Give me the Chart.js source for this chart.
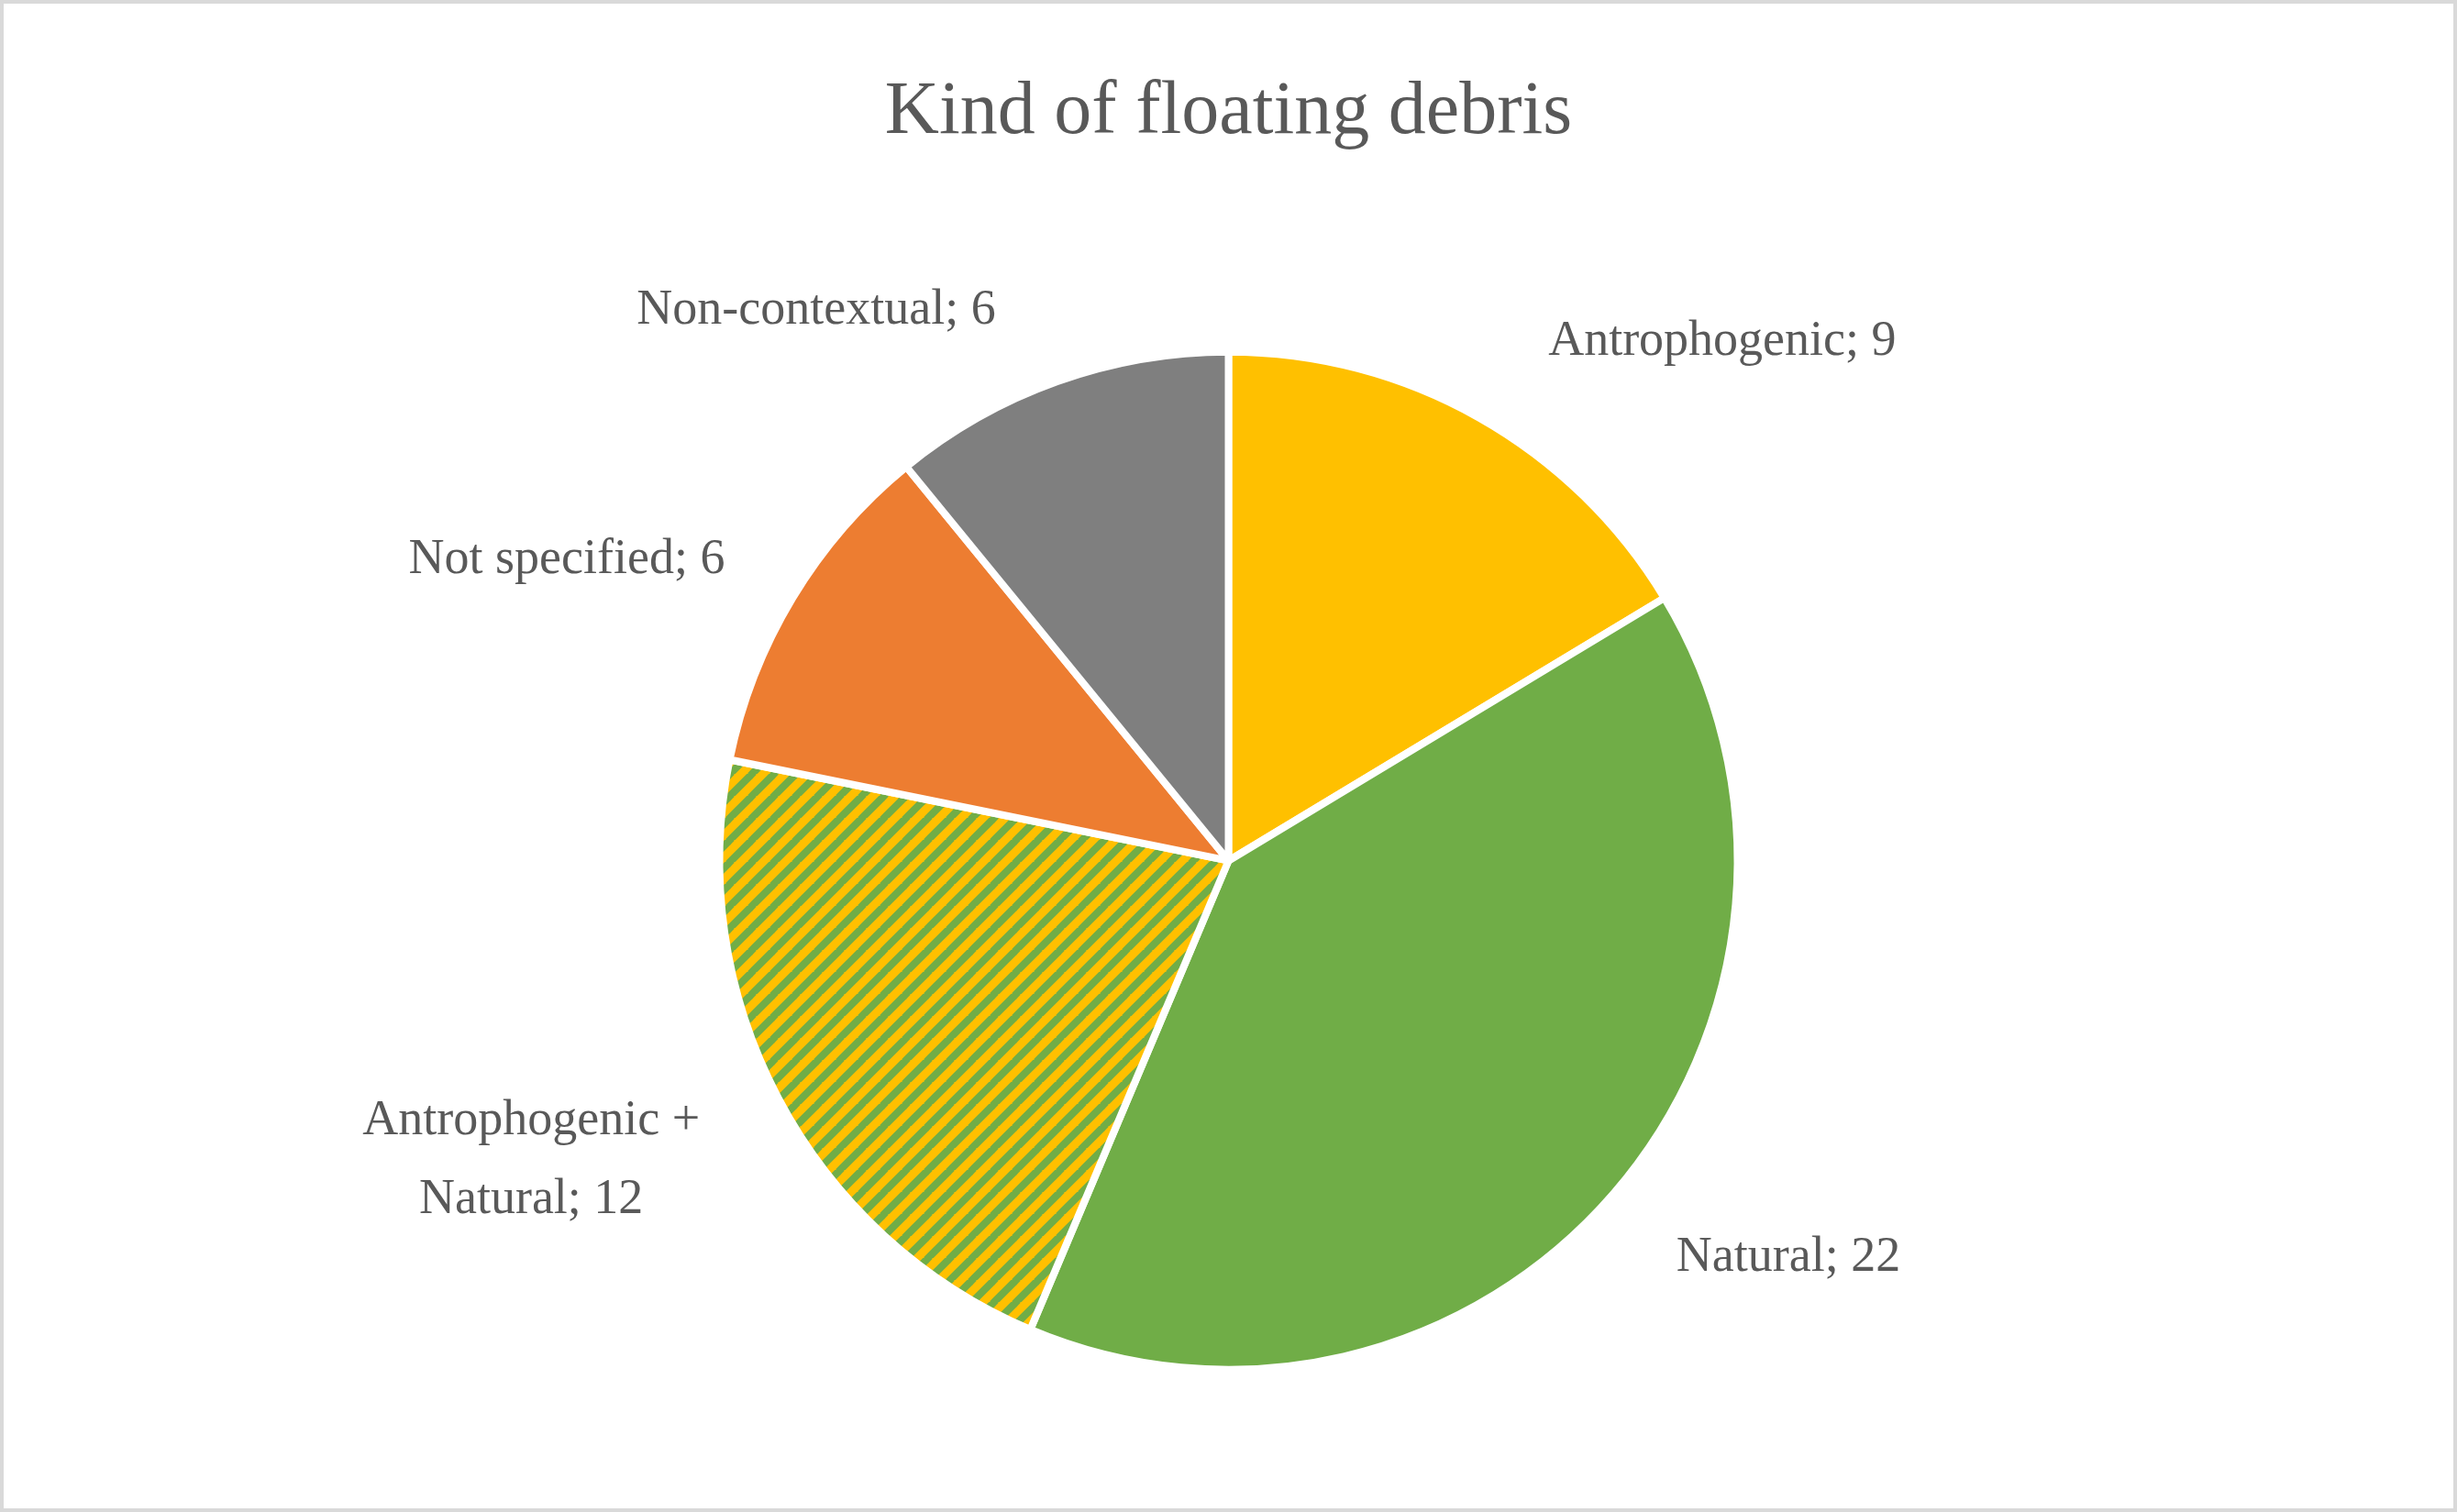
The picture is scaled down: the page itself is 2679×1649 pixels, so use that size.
<!DOCTYPE html>
<html><head><meta charset="utf-8">
<script src="https://cdn.jsdelivr.net/npm/chart.js@4"></script>
<style>html,body{margin:0;padding:0;background:#fff}#wrap{width:2679px;height:1649px;position:relative;box-sizing:border-box;border:4px solid #d9d9d9}</style>
</head><body><div id="wrap"><canvas id="c"></canvas></div>
<script>
const categories = ["Antrophogenic", "Natural", "Antrophogenic + Natural", "Not specified", "Non-contextual"];
const values = [9, 22, 12, 6, 6];
const labelLines = [["Antrophogenic; 9"], ["Natural; 22"], ["Antrophogenic +", "Natural; 12"], ["Not specified; 6"], ["Non-contextual; 6"]];
const labelOffsets = [[0.97,-1.02],[1.10,0.78],[-1.37,0.59],[-1.30,-0.59],[-0.81,-1.08]];

function hatch(){
  const p=document.createElement('canvas'); const s=24; p.width=s; p.height=s;
  const g=p.getContext('2d'); g.fillStyle='#FFC000'; g.fillRect(0,0,s,s);
  g.strokeStyle='#70AD47'; g.lineWidth=8;
  for(let k=-1;k<=1;k++){g.beginPath();g.moveTo(k*s-2,s+2);g.lineTo(k*s+s+2,-2);g.stroke();}
  return g.createPattern(p,'repeat');
}
const ctx=document.getElementById('c').getContext('2d');
const labelPlugin={id:'lbl',afterDatasetsDraw(chart){
  const c=chart.ctx; const arcs=chart.getDatasetMeta(0).data;
  c.save(); c.fillStyle='#595959'; c.font='54px "Liberation Serif", "DejaVu Serif", serif';
  c.textAlign='center'; c.textBaseline='middle';
  arcs.forEach((a,i)=>{const r=a.outerRadius;const x=a.x+labelOffsets[i][0]*r;const y=a.y+labelOffsets[i][1]*r;
    const lines=labelLines[i];const lh=86;
    lines.forEach((t,j)=>c.fillText(t,x,y+(j-(lines.length-1)/2)*lh));});
  c.restore();
}};
new Chart(ctx,{type:'pie',data:{labels:categories,datasets:[{data:values,
  backgroundColor:['#FFC000','#70AD47',hatch(),'#ED7D31','#7F7F7F'],borderColor:'#fff',borderWidth:8}]},
  options:{responsive:true,maintainAspectRatio:false,animation:false,radius:555,
    layout:{padding:{top:0,bottom:0}},
    plugins:{legend:{display:false},tooltip:{enabled:false},
      title:{display:true,text:'Kind of floating debris',color:'#595959',font:{family:'"Liberation Serif", "DejaVu Serif", serif',size:82,weight:'normal'},padding:{top:70,bottom:60}}}},
  plugins:[labelPlugin]});
</script></body></html>
